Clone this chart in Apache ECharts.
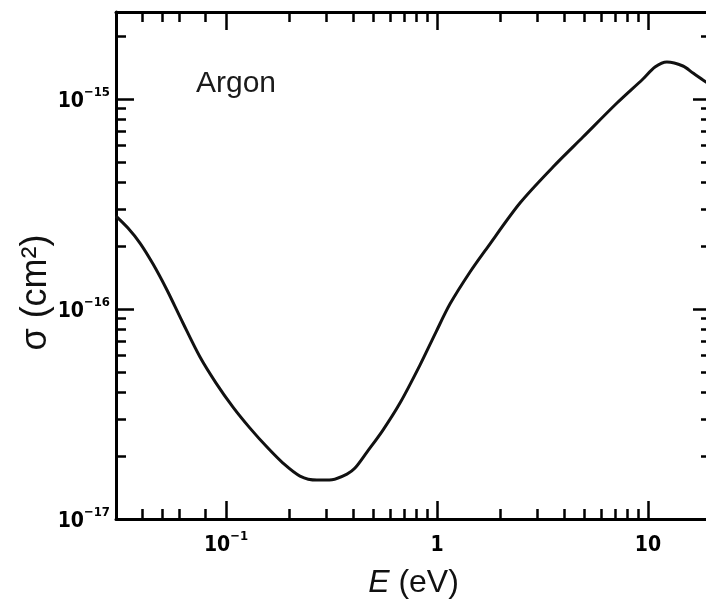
<!DOCTYPE html>
<html><head><meta charset="utf-8">
<script src="https://cdn.jsdelivr.net/npm/echarts@6/dist/echarts.min.js"></script>
<style>html,body{margin:0;padding:0;background:#fff}#c{width:706px;height:599px}</style>
</head><body><div id="c"></div>
<script>
// Electron energy (eV) and cross-section (cm^2)
const energy = [0.0301, 0.0343, 0.0391, 0.0451, 0.0525, 0.0625, 0.0753, 0.0897, 0.1079, 0.1299, 0.1564, 0.1862, 0.2242, 0.2699, 0.3179, 0.3744, 0.4088, 0.4658, 0.5546, 0.6678, 0.8305, 0.989, 1.152, 1.434, 1.726, 2.474, 3.547, 4.92, 7.131, 9.47, 10.8, 12.3, 14.65, 16.34, 18.84, 19.89];
const sigma  = [2.773e-16, 2.432e-16, 2.063e-16, 1.638e-16, 1.232e-16, 8.58e-17, 5.907e-17, 4.44e-17, 3.412e-17, 2.71e-17, 2.201e-17, 1.847e-17, 1.602e-17, 1.533e-17, 1.54e-17, 1.637e-17, 1.748e-17, 2.083e-17, 2.652e-17, 3.566e-17, 5.41e-17, 7.77e-17, 1.056e-16, 1.501e-16, 1.953e-16, 3.199e-16, 4.749e-16, 6.598e-16, 9.58e-16, 1.247e-15, 1.422e-15, 1.502e-15, 1.438e-15, 1.331e-15, 1.206e-15, 1.167e-15];

const xMajorTicks = [0.1, 1, 10];
const xMajorLabels = [['10', '\u22121'], ['1', ''], ['10', '']];
const xMinorTicks = [0.04, 0.05, 0.06, 0.08, 0.2, 0.3, 0.4, 0.5, 0.6, 0.7, 0.8, 0.9, 2, 3, 4, 5, 6, 7, 8, 9];
const yMajorTicks = [1e-17, 1e-16, 1e-15];
const yMajorLabels = [['10', '\u221217'], ['10', '\u221216'], ['10', '\u221215']];
const yMinorTicks = [2e-17, 3e-17, 4e-17, 5e-17, 6e-17, 7e-17, 8e-17, 9e-17, 2e-16, 3e-16, 4e-16, 5e-16, 6e-16, 7e-16, 8e-16, 9e-16, 2e-15];

const xRange = [0.0301, 19.9];
const yRange = [1e-17, 2.6e-15];

const tickFont = "'Liberation Sans Narrow', 'DejaVu Sans Condensed', sans-serif";
const textFont = "'Liberation Sans', Arial, sans-serif";
const ink = '#000';

function labelFor(ticks, labels) {
  return function (v) {
    for (let i = 0; i < ticks.length; i++) {
      if (Math.abs(Math.log10(v) - Math.log10(ticks[i])) < 1e-6) {
        const l = labels[i];
        return '{b|' + l[0] + '}' + (l[1] ? '{s|' + l[1] + '}' : '');
      }
    }
    return '';
  };
}
const richTick = {
  b: { fontSize: 21, fontWeight: 'bold', fontFamily: tickFont, color: ink, lineHeight: 26, verticalAlign: 'bottom', padding: [2, 0, 0, 0] },
  s: { fontSize: 13, fontWeight: 'bold', fontFamily: tickFont, color: ink, lineHeight: 13, verticalAlign: 'top' }
};

function axisBase(range, position, ticks, len, showLine) {
  return {
    type: 'log', logBase: 10, min: range[0], max: range[1], position: position,
    axisLine: { show: showLine, onZero: false, lineStyle: { color: ink, width: 3 } },
    axisTick: { show: true, inside: true, length: len, customValues: ticks, lineStyle: { color: ink, width: 2.5 } },
    axisLabel: { show: false },
    splitLine: { show: false }, minorTick: { show: false }, minorSplitLine: { show: false }
  };
}

const xMain = axisBase(xRange, 'bottom', xMajorTicks, 18, true);
xMain.axisLabel = { show: true, customValues: xMajorTicks, margin: 11, formatter: labelFor(xMajorTicks, xMajorLabels), rich: richTick };
xMain.name = '{i|E} (eV)';
xMain.nameLocation = 'middle';
xMain.nameGap = 48;
xMain.nameMoveOverlap = false;
xMain.nameTextStyle = { fontSize: 32, fontFamily: textFont, color: '#111', rich: { i: { fontSize: 32, fontStyle: 'italic', fontFamily: textFont, color: '#111' } } };

const yMain = axisBase(yRange, 'left', yMajorTicks, 18, true);
yMain.axisLabel = { show: true, customValues: yMajorTicks, margin: 6, formatter: labelFor(yMajorTicks, yMajorLabels), rich: richTick };
yMain.name = '\u03c3 (cm\u00b2)';
yMain.nameLocation = 'middle';
yMain.nameGap = 62;
yMain.nameMoveOverlap = false;
yMain.nameRotate = 90;
yMain.nameTextStyle = { fontSize: 36, fontFamily: textFont, color: '#111', padding: [0, 54, 0, 0] };

const chart = echarts.init(document.getElementById('c'), null, { renderer: 'canvas' });
chart.setOption({
  animation: false,
  backgroundColor: '#fff',
  title: { text: 'Argon', left: 191, top: 64, textStyle: { fontSize: 30, fontWeight: 'normal', fontFamily: textFont, color: '#1a1a1a' } },
  grid: { left: 116, top: 12, right: -5, bottom: 80, containLabel: false, outerBoundsMode: 'none' },
  xAxis: [
    xMain,
    axisBase(xRange, 'bottom', xMinorTicks, 10, false),
    axisBase(xRange, 'top', xMajorTicks, 18, true),
    axisBase(xRange, 'top', xMinorTicks, 10, false)
  ],
  yAxis: [
    yMain,
    axisBase(yRange, 'left', yMinorTicks, 10, false),
    axisBase(yRange, 'right', yMajorTicks, 18, true),
    axisBase(yRange, 'right', yMinorTicks, 10, false)
  ],
  series: [{
    type: 'line', xAxisIndex: 0, yAxisIndex: 0,
    data: energy.map((e, i) => [e, sigma[i]]),
    showSymbol: false, smooth: 0.3,
    lineStyle: { color: '#111', width: 3 }
  }]
});
</script>
</body></html>
